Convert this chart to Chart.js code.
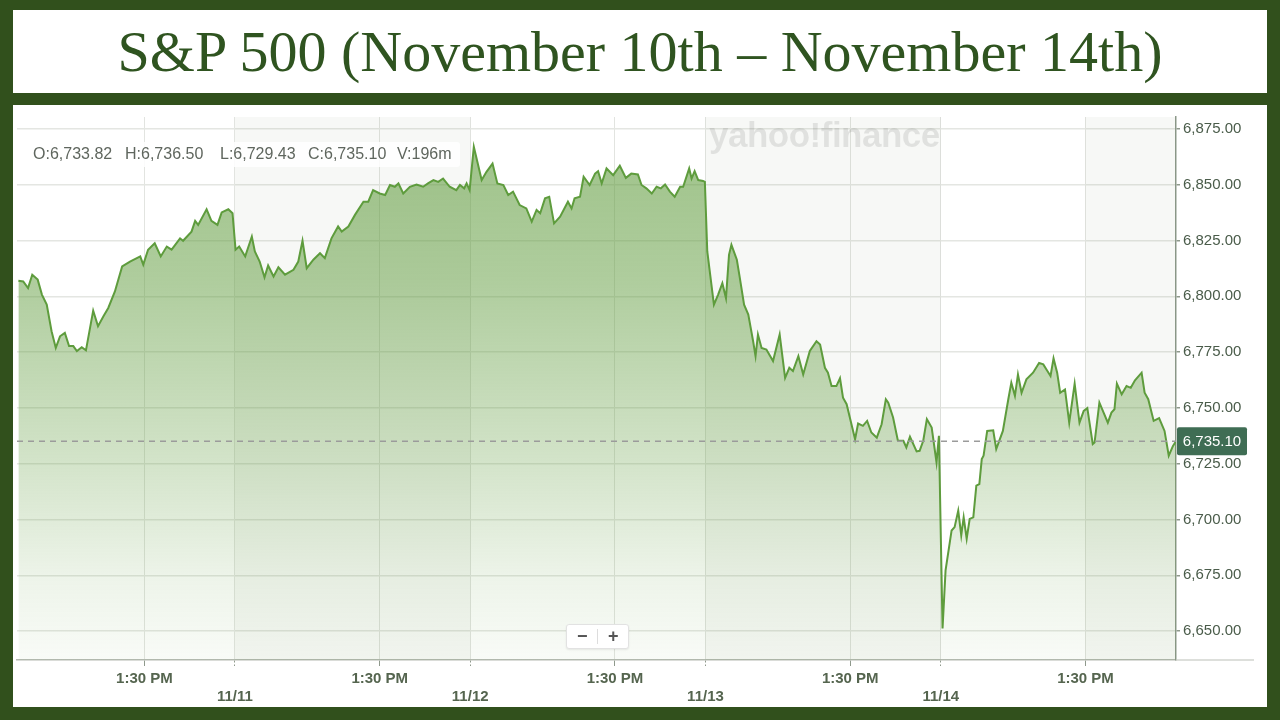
<!DOCTYPE html>
<html>
<head>
<meta charset="utf-8">
<script src="https://cdn.jsdelivr.net/npm/chart.js@4.4.1/dist/chart.umd.min.js"></script>
<style>
  html, body { margin: 0; padding: 0; }
  body { width: 1280px; height: 720px; background: #31501c; position: relative; overflow: hidden; font-family: "Liberation Sans", Arial, sans-serif; }
  #title { position: absolute; left: 13px; top: 10px; width: 1254px; height: 83px; background: #fff; display: flex; align-items: center; justify-content: center; font-family: "Liberation Serif", serif; font-size: 58px; color: #2f5420; white-space: nowrap; }
  #panel { position: absolute; left: 13px; top: 105px; width: 1254px; height: 602px; background: #fff; }
  #chart { position: absolute; left: 0; top: 0; }
  #ohlc { position: absolute; left: 15px; top: 37px; width: 432px; height: 25px; background: rgba(255,255,255,0.85); border-radius: 3px; }
  #ohlc span { position: absolute; top: 3px; font-size: 16px; color: #5f665e; white-space: nowrap; }
  #watermark { position: absolute; left: 696px; top: 10px; font-size: 35px; font-weight: bold; color: rgba(0,0,0,0.09); letter-spacing: -0.5px; white-space: nowrap; }
  #zoombox { position: absolute; left: 553px; top: 519px; width: 61px; height: 23px; background: #fff; border: 1px solid #e2e2e2; border-radius: 3px; box-shadow: 0 1px 2px rgba(0,0,0,0.08); }
  #zoombox span { position: absolute; top: 1px; font-size: 18px; font-weight: bold; color: #555; }
  #zoombox i { position: absolute; left: 30px; top: 4px; width: 1px; height: 15px; background: #ddd; }
</style>
</head>
<body>
<div id="title">S&amp;P 500 (November 10th – November 14th)</div>
<div id="panel">
  <canvas id="chart" width="1254" height="602"></canvas>
  <div id="watermark">yahoo!finance</div>
  <div id="ohlc"></div>
  <div id="zoombox"><span style="left:10px">−</span><i></i><span style="left:41px">+</span></div>
</div>
<script>
// ---- data (minutes of trading time since 11/10 open, 390 per session) ----
const minutes = [31,39,47,54,63,70,78,86,93,100,108,115,122,128,136,143,155,163,172,180,191,203,216,233,238,246,257,267,277,285,299,304,318,324,329,343,351,361,368,379,386,391,397,407,418,423,431,439,445,454,462,473,487,495,502,509,520,531,539,550,561,567,578,589,603,611,619,630,639,647,655,661,669,680,691,702,710,719,727,735,746,757,763,770,774,779,786,799,807,817,825,835,843,851,862,873,882,890,896,904,911,919,929,942,948,953,962,968,978,987,992,998,1006,1017,1028,1038,1047,1058,1064,1072,1081,1089,1096,1103,1111,1119,1128,1133,1143,1147,1152,1158,1166,1169,1173,1184,1191,1198,1204,1209,1213,1222,1227,1234,1241,1249,1253,1257,1263,1271,1282,1293,1302,1309,1315,1324,1332,1343,1354,1360,1368,1373,1379,1387,1393,1398,1404,1412,1418,1423,1431,1438,1445,1454,1462,1469,1473,1481,1489,1498,1503,1509,1520,1525,1531,1537,1545,1553,1557,1563,1568,1578,1583,1589,1594,1598,1603,1608,1614,1619,1624,1628,1631,1637,1647,1652,1663,1672,1677,1683,1688,1694,1702,1713,1723,1730,1735,1742,1747,1753,1758,1766,1773,1782,1790,1797,1803,1812,1815,1823,1830,1837,1843,1848,1852,1860,1868,1875,1882,1893,1898,1904,1913,1922,1931,1938,1945,1950];
const prices = [6807.0,6806.7,6803.7,6809.7,6807.5,6800.8,6796.3,6784.4,6776.9,6782.1,6783.6,6777.7,6777.7,6775.5,6777.2,6775.8,6793.6,6786.6,6791.1,6794.8,6802.2,6813.4,6815.6,6817.9,6814.2,6820.9,6823.8,6817.9,6822.3,6820.9,6826.0,6824.9,6829.0,6833.8,6832.0,6839.0,6833.8,6832.0,6837.6,6839.0,6837.2,6820.9,6822.3,6817.9,6826.8,6820.1,6815.6,6808.5,6813.8,6808.9,6813.0,6809.7,6811.9,6815.6,6824.9,6812.6,6816.4,6819.3,6817.1,6826.0,6831.3,6829.0,6831.3,6836.5,6842.4,6842.4,6847.6,6846.1,6845.4,6849.9,6849.1,6850.6,6846.1,6849.1,6850.1,6849.1,6850.6,6852.1,6851.3,6852.8,6849.1,6847.6,6849.9,6848.4,6850.6,6847.6,6867.0,6852.1,6855.8,6859.5,6850.6,6849.9,6845.4,6846.9,6840.9,6839.4,6833.5,6838.7,6837.2,6843.9,6844.6,6832.7,6835.7,6842.4,6839.4,6843.9,6844.6,6853.6,6849.9,6855.0,6856.1,6850.6,6857.3,6854.3,6858.5,6853.1,6855.0,6854.6,6849.9,6848.4,6846.1,6849.1,6848.4,6850.1,6846.9,6844.6,6849.1,6849.1,6857.3,6852.8,6856.1,6852.1,6851.7,6851.3,6820.1,6796.3,6800.8,6805.9,6799.2,6818.6,6823.1,6816.4,6808.2,6796.3,6791.8,6779.9,6773.2,6782.9,6776.9,6776.2,6771.0,6782.9,6763.5,6768.0,6766.5,6773.2,6765.0,6775.5,6779.9,6778.4,6768.0,6765.8,6759.8,6759.8,6763.3,6754.6,6751.7,6742.7,6736.0,6743.0,6742.0,6744.2,6739.0,6736.7,6742.7,6753.9,6752.4,6745.7,6735.3,6735.3,6732.3,6737.1,6730.5,6730.8,6735.3,6745.0,6741.2,6725.6,6737.5,6651.2,6677.2,6695.1,6696.6,6704.0,6692.9,6701.0,6691.4,6700.3,6701.0,6715.2,6715.9,6727.1,6728.6,6739.7,6740.0,6731.6,6739.7,6753.9,6761.3,6755.4,6765.0,6756.8,6762.8,6765.8,6770.2,6769.5,6767.3,6764.3,6772.2,6765.8,6756.8,6758.3,6743.4,6760.9,6743.4,6748.7,6749.9,6733.8,6734.5,6752.4,6747.9,6743.4,6747.9,6749.4,6760.9,6756.1,6759.8,6759.0,6762.4,6765.8,6756.8,6753.9,6744.2,6745.4,6739.7,6728.6,6733.0,6735.1];
const yTickValues = [6650, 6675, 6700, 6725, 6750, 6775, 6800, 6825, 6850, 6875];
const timeTickValues = [240, 390, 630, 780, 1020, 1170, 1410, 1560, 1800];
const timeTickLabels = ["1:30 PM", ["", "11/11"], "1:30 PM", ["", "11/12"], "1:30 PM", ["", "11/13"], "1:30 PM", ["", "11/14"], "1:30 PM"];
const dayBoundaryTicks = [390, 780, 1170, 1560];
const shadedSessions = [[390, 780], [1170, 1560], [1800, 1950]];
const lastClose = 6735.10;
const ohlcItems = ["O:6,733.82", "H:6,736.50", "L:6,729.43", "C:6,735.10", "V:196m"];
const ohlcLeft = [20, 112, 207, 295, 384];

// OHLC header text
const ohlcBox = document.getElementById('ohlc');
ohlcItems.forEach((t, i) => {
  const s = document.createElement('span');
  s.textContent = t;
  s.style.left = (ohlcLeft[i] - 15) + 'px';
  ohlcBox.appendChild(s);
});

const fmt2 = v => Number(v).toLocaleString('en-US', { minimumFractionDigits: 2, maximumFractionDigits: 2 });

const bandsPlugin = {
  id: 'bands',
  beforeDatasetsDraw(chart) {
    const { ctx, chartArea: a, scales: { x } } = chart;
    ctx.save();
    ctx.fillStyle = 'rgba(70,90,50,0.045)';
    shadedSessions.forEach(([s, e]) => {
      const x0 = Math.max(a.left, x.getPixelForValue(s));
      const x1 = Math.min(a.right, x.getPixelForValue(e));
      ctx.fillRect(x0, a.top, x1 - x0, a.bottom - a.top);
    });
    ctx.restore();
  }
};

const lastPricePlugin = {
  id: 'lastPrice',
  afterDraw(chart) {
    const { ctx, chartArea: a, scales: { y } } = chart;
    // x-axis baseline continues under the price labels
    ctx.save();
    ctx.strokeStyle = '#d2d5cf';
    ctx.lineWidth = 1.5;
    ctx.beginPath();
    ctx.moveTo(a.right, a.bottom);
    ctx.lineTo(a.right + 78, a.bottom);
    ctx.stroke();
    const py = y.getPixelForValue(lastClose);
    ctx.strokeStyle = '#9b9b9b';
    ctx.lineWidth = 1.5;
    ctx.setLineDash([6, 5]);
    ctx.beginPath();
    ctx.moveTo(a.left, py);
    ctx.lineTo(a.right, py);
    ctx.stroke();
    ctx.setLineDash([]);
    ctx.fillStyle = '#3f6d54';
    const bx = a.right + 1, bw = 70, bh = 28;
    ctx.beginPath();
    ctx.roundRect(bx, py - bh / 2, bw, bh, 2);
    ctx.fill();
    ctx.fillStyle = '#ffffff';
    ctx.font = '15px "Liberation Sans", Arial, sans-serif';
    ctx.textAlign = 'center';
    ctx.textBaseline = 'middle';
    ctx.fillText(fmt2(lastClose), bx + bw / 2, py + 1);
    ctx.restore();
  }
};

const points = minutes.map((m, i) => ({ x: m, y: prices[i] }));

new Chart(document.getElementById('chart'), {
  type: 'line',
  data: {
    datasets: [{
      data: points,
      borderColor: '#5e9c3d',
      borderWidth: 2,
      pointRadius: 0,
      tension: 0,
      fill: 'start',
      backgroundColor: (c) => {
        const a = c.chart.chartArea;
        if (!a) return 'rgba(95,155,60,0.3)';
        const g = c.chart.ctx.createLinearGradient(0, a.top, 0, a.bottom);
        g.addColorStop(0, 'rgba(95,155,60,0.62)');
        g.addColorStop(0.3, 'rgba(95,155,60,0.5)');
        g.addColorStop(0.6, 'rgba(95,155,60,0.3)');
        g.addColorStop(0.85, 'rgba(95,155,60,0.11)');
        g.addColorStop(1, 'rgba(95,155,60,0.04)');
        return g;
      }
    }]
  },
  options: {
    responsive: false,
    animation: false,
    layout: { padding: { left: 4, top: 10, right: 0, bottom: 0 } },
    plugins: { legend: { display: false }, tooltip: { enabled: false }, title: { display: false } },
    scales: {
      x: {
        type: 'linear',
        min: 28.7,
        max: 1950,
        afterBuildTicks: s => { s.ticks = timeTickValues.map(v => ({ value: v })); },
        afterFit: s => { s.height = 47; },
        ticks: {
          autoSkip: false,
          maxRotation: 0,
          padding: 4,
          color: '#55654f',
          font: { family: '"Liberation Sans", Arial, sans-serif', size: 15, weight: 'bold', lineHeight: 1.2 },
          callback: (v, i) => timeTickLabels[i]
        },
        grid: {
          color: '#e2e4e0',
          lineWidth: 1,
          tickLength: 6,
          tickColor: '#8f998c',
          tickBorderDash: (c) => (c.tick && dayBoundaryTicks.includes(c.tick.value)) ? [2, 2] : []
        },
        border: { color: '#b5bab2', width: 1.5 }
      },
      y: {
        position: 'right',
        min: 6637.06,
        max: 6880.36,
        afterBuildTicks: s => { s.ticks = yTickValues.map(v => ({ value: v })); },
        afterFit: s => { s.width = 91; },
        ticks: {
          padding: 3,
          color: '#4a5c4a',
          font: { family: '"Liberation Sans", Arial, sans-serif', size: 15 },
          callback: v => fmt2(v)
        },
        grid: { color: '#e4e6e2', lineWidth: 1.5, tickLength: 4, tickColor: '#8f998c' },
        border: { color: '#8e9a8b', width: 1.5 }
      }
    }
  },
  plugins: [bandsPlugin, lastPricePlugin]
});
</script>
</body>
</html>
